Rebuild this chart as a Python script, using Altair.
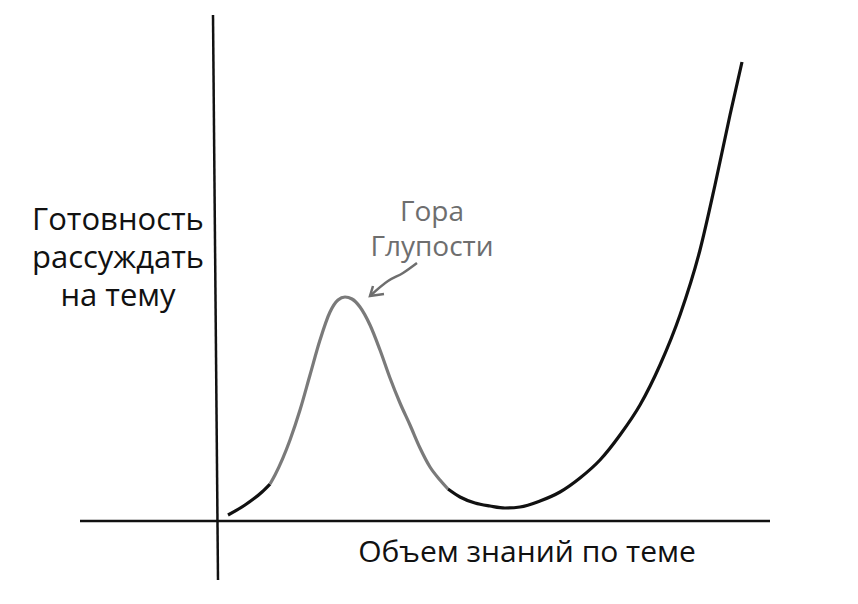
import altair as alt
import pandas as pd

# Coordinates (origin at axis crossing), x right, y up
curve_x = [10, 27, 44, 52, 57, 72, 82, 92, 102, 112, 120, 127, 134, 142, 152, 162, 172, 182, 192, 202, 212, 222, 230,
           242, 257, 272, 287, 302, 322, 342, 362, 382, 402, 422, 442, 462, 482, 497, 512, 524]
curve_y = [6, 16, 29, 37, 46, 81, 111, 146, 181, 209, 221, 224, 222, 214, 196, 171, 143, 118, 96, 73, 54, 41, 32,
           24, 18, 15, 13, 14, 20, 29, 43, 61, 86, 116, 156, 206, 271, 336, 406, 459]
# which part of the curve is grey ("Гора Глупости") vs black
curve_part = ["a"] * 4 + ["b"] * 19 + ["c"] * 17

labels_text = ["Готовность", "рассуждать", "на тему", "Гора", "Глупости", "Объем знаний по теме"]
labels_x = [-100, -100, -100, 214, 214, 309]
labels_y = [300, 262, 224, 308, 273, -32]
labels_color = ["#111111", "#111111", "#111111", "#6e6e6e", "#6e6e6e", "#111111"]
labels_size = [31, 31, 31, 28, 28, 30]

arrow_x = [199, 185, 170, 152]
arrow_y = [258, 248, 240, 225]
head_x = [155, 152, 166]
head_y = [235, 225, 227]

X_DOM = [-210, 632]
Y_DOM = [-75, 513]

rows = []
for i, (x, y, p) in enumerate(zip(curve_x, curve_y, curve_part)):
    rows.append({"x": x, "y": y, "seg": p, "o": i})
# duplicate boundary points so segments connect
rows.append({"x": curve_x[3], "y": curve_y[3], "seg": "b", "o": 3.5})
rows.append({"x": curve_x[22], "y": curve_y[22], "seg": "c", "o": 22.5})
curve_df = pd.DataFrame(rows)

xs = alt.Scale(domain=X_DOM, nice=False, zero=False)
ys = alt.Scale(domain=Y_DOM, nice=False, zero=False)

axes_df = pd.DataFrame({
    "x": [-5, 0, -138, 552],
    "y": [506, -59, 0, 0],
    "ln": ["v", "v", "h", "h"],
})
axes = alt.Chart(axes_df).mark_line(color="#111111", strokeWidth=2.5).encode(
    x=alt.X("x:Q", scale=xs, axis=None),
    y=alt.Y("y:Q", scale=ys, axis=None),
    detail="ln:N",
)

curve = alt.Chart(curve_df).mark_line(strokeWidth=3.2, interpolate="monotone").encode(
    x=alt.X("x:Q", scale=xs, axis=None),
    y=alt.Y("y:Q", scale=ys, axis=None),
    color=alt.Color("seg:N", scale=alt.Scale(domain=["a", "b", "c"], range=["#111111", "#7a7a7a", "#111111"]), legend=None),
    order="o:Q",
)

arrow_df = pd.DataFrame({"x": arrow_x, "y": arrow_y, "o": list(range(len(arrow_x)))})
arrow = alt.Chart(arrow_df).mark_line(color="#6e6e6e", strokeWidth=2.5, interpolate="monotone").encode(
    x=alt.X("x:Q", scale=xs, axis=None),
    y=alt.Y("y:Q", scale=ys, axis=None),
    order="o:Q",
)
head_df = pd.DataFrame({"x": head_x, "y": head_y, "o": list(range(len(head_x)))})
head = alt.Chart(head_df).mark_line(color="#6e6e6e", strokeWidth=2.5).encode(
    x=alt.X("x:Q", scale=xs, axis=None),
    y=alt.Y("y:Q", scale=ys, axis=None),
    order="o:Q",
)

lab_df = pd.DataFrame({"t": labels_text, "x": labels_x, "y": labels_y, "c": labels_color, "s": labels_size})
labels = alt.Chart(lab_df).mark_text(font="Open Sans", align="center", baseline="middle").encode(
    x=alt.X("x:Q", scale=xs, axis=None),
    y=alt.Y("y:Q", scale=ys, axis=None),
    text="t:N",
    color=alt.Color("c:N", scale=None),
    size=alt.Size("s:Q", scale=None),
)

chart = alt.layer(axes, curve, arrow, head, labels).properties(
    width=842, height=588, padding=0,
    autosize=alt.AutoSizeParams(type="fit", contains="padding"),
    background="white",
).configure_view(stroke=None)

chart.save("out.html", embed_options={"renderer": "svg", "actions": False})
